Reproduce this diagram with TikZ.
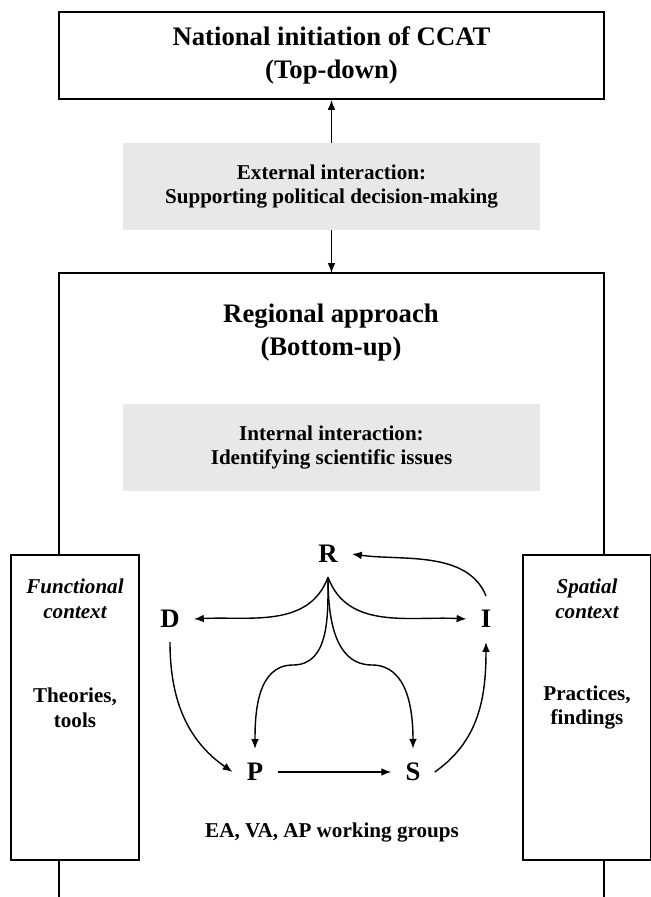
\documentclass[tikz,border=0pt]{standalone}
\usepackage{fontspec}
\setmainfont{Liberation Serif}
\usetikzlibrary{arrows.meta,positioning}
\definecolor{boxgray}{HTML}{E8E8E8}

\begin{document}
\begin{tikzpicture}[x=0.025cm,y=0.025cm,
  headtext/.style={font=\fontsize{19}{23.5}\selectfont\bfseries, align=center},
  smalltext/.style={font=\fontsize{15}{17.5}\selectfont\bfseries, align=center},
  letter/.style={font=\fontsize{19}{23}\selectfont\bfseries, inner sep=10pt},
  graybox/.style={smalltext, fill=boxgray, minimum width=10.425cm, minimum height=2.175cm},
  sidebox/.style={smalltext, draw, line width=1.3pt, fill=white, minimum width=3.2cm, minimum height=7.625cm},
  arr/.style={-{Latex[length=7pt,width=5.5pt]}, line width=1pt}]

\useasboundingbox (0,0) rectangle (651,897);

\node[headtext, draw, line width=1.3pt, minimum width=13.625cm, minimum height=2.175cm] (national) at (331.5,841.5) {National initiation of CCAT\\(Top-down)};
\node[graybox] (external) at (331.5,710.5) {External interaction:\\Supporting political decision-making};
\coordinate (frametop) at (331.5,624);

\draw[line width=1.6pt] (59,0) -- (59,624) -- (604,624) -- (604,0);
\draw[arr] (external) -- (national);
\draw[arr] (external) -- (frametop);

\node[headtext] (regional) at (331,564.5) {Regional approach\\(Bottom-up)};
\node[graybox] (internal) at (331.5,449.5) {Internal interaction:\\Identifying scientific issues};

\node[sidebox] (functional) at (75,189.5) {Theories,\\tools};
\node[smalltext] (functitle) at (75,298.5) {\itshape Functional\\\itshape context};
\node[sidebox] (spatial) at (587,189.5) {Practices,\\findings};
\node[smalltext] (spattitle) at (587,298.5) {\itshape Spatial\\\itshape context};

\node[letter] (R) at (328,343) {R};
\node[letter] (D) at (170,278) {D};
\node[letter] (I) at (486,278) {I};
\node[letter] (P) at (255,125) {P};
\node[letter] (S) at (413,125) {S};
\node[smalltext] (groups) at (332,64) {EA, VA, AP working groups};

\coordinate (bumpP) at (293,232);
\coordinate (bumpS) at (372,232);

\draw[arr] (R.south) to[out=-110,in=3] (D.east);
\draw[arr] (R.south) to[out=-70,in=177] (I.west);
\draw[arr] (R.south) to[out=-90,in=0] (bumpP) to[out=180,in=90] (P.north);
\draw[arr] (R.south) to[out=-90,in=180] (bumpS) to[out=0,in=90] (S.north);
\draw[arr] (D.south) to[out=-90,in=145] (P.west);
\draw[arr] (P) -- (S);
\draw[arr] (S.east) to[out=35,in=-90] (I.south);
\draw[arr] (I.north) to[out=112,in=-8,looseness=0.9] (R.east);

\end{tikzpicture}
\end{document}
